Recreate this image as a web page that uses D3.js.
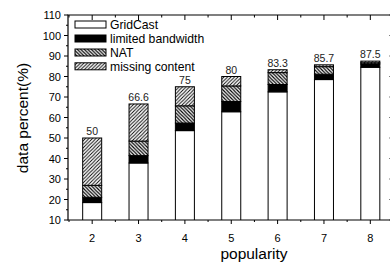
<!DOCTYPE html>
<html><head><meta charset="utf-8">
<script src="https://cdn.jsdelivr.net/npm/d3@7"></script>
<style>body{margin:0;background:#fff}svg{display:block;font-family:"Liberation Sans",Arial,sans-serif}</style>
</head><body>
<svg id="c" width="390" height="262"></svg>
<script>
const categories = [2, 3, 4, 5, 6, 7, 8];
const gridcast = [18.5, 37.8, 53.6, 62.8, 72.5, 78.5, 84.5];
const limitedBandwidth = [2.6, 3.6, 3.7, 5.0, 3.6, 2.6, 1.6];
const nat = [5.8, 7.1, 8.4, 7.6, 5.8, 3.7, 0.6];
const missingContent = [23.1, 18.1, 9.3, 4.6, 1.4, 0.9, 0.8];
const totalLabels = ["50", "66.6", "75", "80", "83.3", "85.7", "87.5"];
const seriesNames = ["GridCast", "limited bandwidth", "NAT", "missing content"];
const yTicks = [10, 20, 30, 40, 50, 60, 70, 80, 90, 100, 110];

const svg = d3.select("#c");
const L = 68, R = 393.5, T = 15, B = 220;
const x = d3.scaleLinear().domain([1.5, 8.5]).range([69, 393.5]);
const y = d3.scaleLinear().domain([10, 110]).range([B, T]);

const defs = svg.append("defs");
const p1 = defs.append("pattern").attr("id", "fwd").attr("patternUnits", "userSpaceOnUse").attr("width", 3.5).attr("height", 3.5);
p1.append("rect").attr("width", 3.5).attr("height", 3.5).attr("fill", "#fff");
p1.append("path").attr("d", "M-1,1 L1,-1 M0,3.5 L3.5,0 M2.5,4.5 L4.5,2.5").attr("stroke", "#000").attr("stroke-width", 0.9);
const p2 = defs.append("pattern").attr("id", "bwd").attr("patternUnits", "userSpaceOnUse").attr("width", 3.5).attr("height", 3.5);
p2.append("rect").attr("width", 3.5).attr("height", 3.5).attr("fill", "#fff");
p2.append("path").attr("d", "M-1,2.5 L1,4.5 M0,0 L3.5,3.5 M2.5,-1 L4.5,1").attr("stroke", "#000").attr("stroke-width", 1.2);
defs.append("clipPath").attr("id", "clip").append("rect").attr("x", L).attr("y", T).attr("width", R - L).attr("height", B - T);

const fills = ["#fff", "#000", "url(#bwd)", "url(#fwd)"];
const stackData = categories.map((c, i) => ({c, s0: gridcast[i], s1: limitedBandwidth[i], s2: nat[i], s3: missingContent[i]}));
const stacked = d3.stack().keys(["s0", "s1", "s2", "s3"])(stackData);

const bw = 0.41 * (x(3) - x(2));
const g = svg.append("g").attr("clip-path", "url(#clip)");
stacked.forEach((layer, k) => {
  g.selectAll(null).data(layer).enter().append("rect")
    .attr("x", d => x(d.data.c) - bw / 2)
    .attr("y", d => y(d[1]))
    .attr("width", bw)
    .attr("height", d => Math.max(0, y(d[0]) - y(d[1])))
    .attr("fill", fills[k])
    .attr("stroke", "#000").attr("stroke-width", 1);
});

// total labels
svg.selectAll(null).data(categories).enter().append("text")
  .attr("x", (d) => x(d)).attr("y", (d, i) => y(gridcast[i] + limitedBandwidth[i] + nat[i] + missingContent[i]) - 3)
  .attr("text-anchor", "middle").attr("font-size", 10.5).attr("fill", "#222")
  .text((d, i) => totalLabels[i]);

// frame
svg.append("path").attr("d", `M${L},${T}H${R}V${B}H${L}Z`).attr("fill", "none").attr("stroke", "#000").attr("stroke-width", 1.2);

// axes
const minorY = d3.range(15, 110, 10);
const minorX = d3.range(1.5, 8.6, 1);
const ax = svg.append("g").attr("stroke", "#000").attr("stroke-width", 1);
ax.selectAll(null).data(yTicks).enter().append("line").attr("x1", L - 4).attr("x2", L).attr("y1", d => y(d)).attr("y2", d => y(d));
ax.selectAll(null).data(minorY).enter().append("line").attr("x1", L - 2).attr("x2", L).attr("y1", d => y(d)).attr("y2", d => y(d));
ax.selectAll(null).data(yTicks).enter().append("line").attr("x1", R - 4).attr("x2", R).attr("y1", d => y(d)).attr("y2", d => y(d));
ax.selectAll(null).data(categories).enter().append("line").attr("x1", d => x(d)).attr("x2", d => x(d)).attr("y1", B).attr("y2", B + 4);
ax.selectAll(null).data(minorX).enter().append("line").attr("x1", d => x(d)).attr("x2", d => x(d)).attr("y1", B).attr("y2", B + 2);
ax.selectAll(null).data(categories).enter().append("line").attr("x1", d => x(d)).attr("x2", d => x(d)).attr("y1", T).attr("y2", T + 5);
ax.selectAll(null).data(minorX).enter().append("line").attr("x1", d => x(d)).attr("x2", d => x(d)).attr("y1", T).attr("y2", T + 2.5);

svg.selectAll(null).data(yTicks).enter().append("text")
  .attr("x", L - 7).attr("y", d => y(d) + 4).attr("text-anchor", "end").attr("font-size", 11).text(d => d);
svg.selectAll(null).data(categories).enter().append("text")
  .attr("x", d => x(d)).attr("y", 242).attr("text-anchor", "middle").attr("font-size", 11).text(d => d);

svg.append("text").attr("x", 254).attr("y", 259).attr("text-anchor", "middle").attr("font-size", 15.5).text("popularity");
svg.append("text").attr("transform", "translate(28,118) rotate(-90)").attr("text-anchor", "middle").attr("font-size", 15.5).text("data percent(%)");

// legend
const ly = [24.5, 38.5, 52.5, 66.3];
const leg = svg.append("g");
seriesNames.forEach((n, i) => {
  leg.append("rect").attr("x", 75).attr("y", ly[i] - 3.5).attr("width", 31).attr("height", 7)
    .attr("fill", fills[i]).attr("stroke", "#000").attr("stroke-width", 1);
  leg.append("text").attr("x", 110).attr("y", ly[i] + 4.2).attr("font-size", 12.2).text(n);
});
</script>
</body></html>
